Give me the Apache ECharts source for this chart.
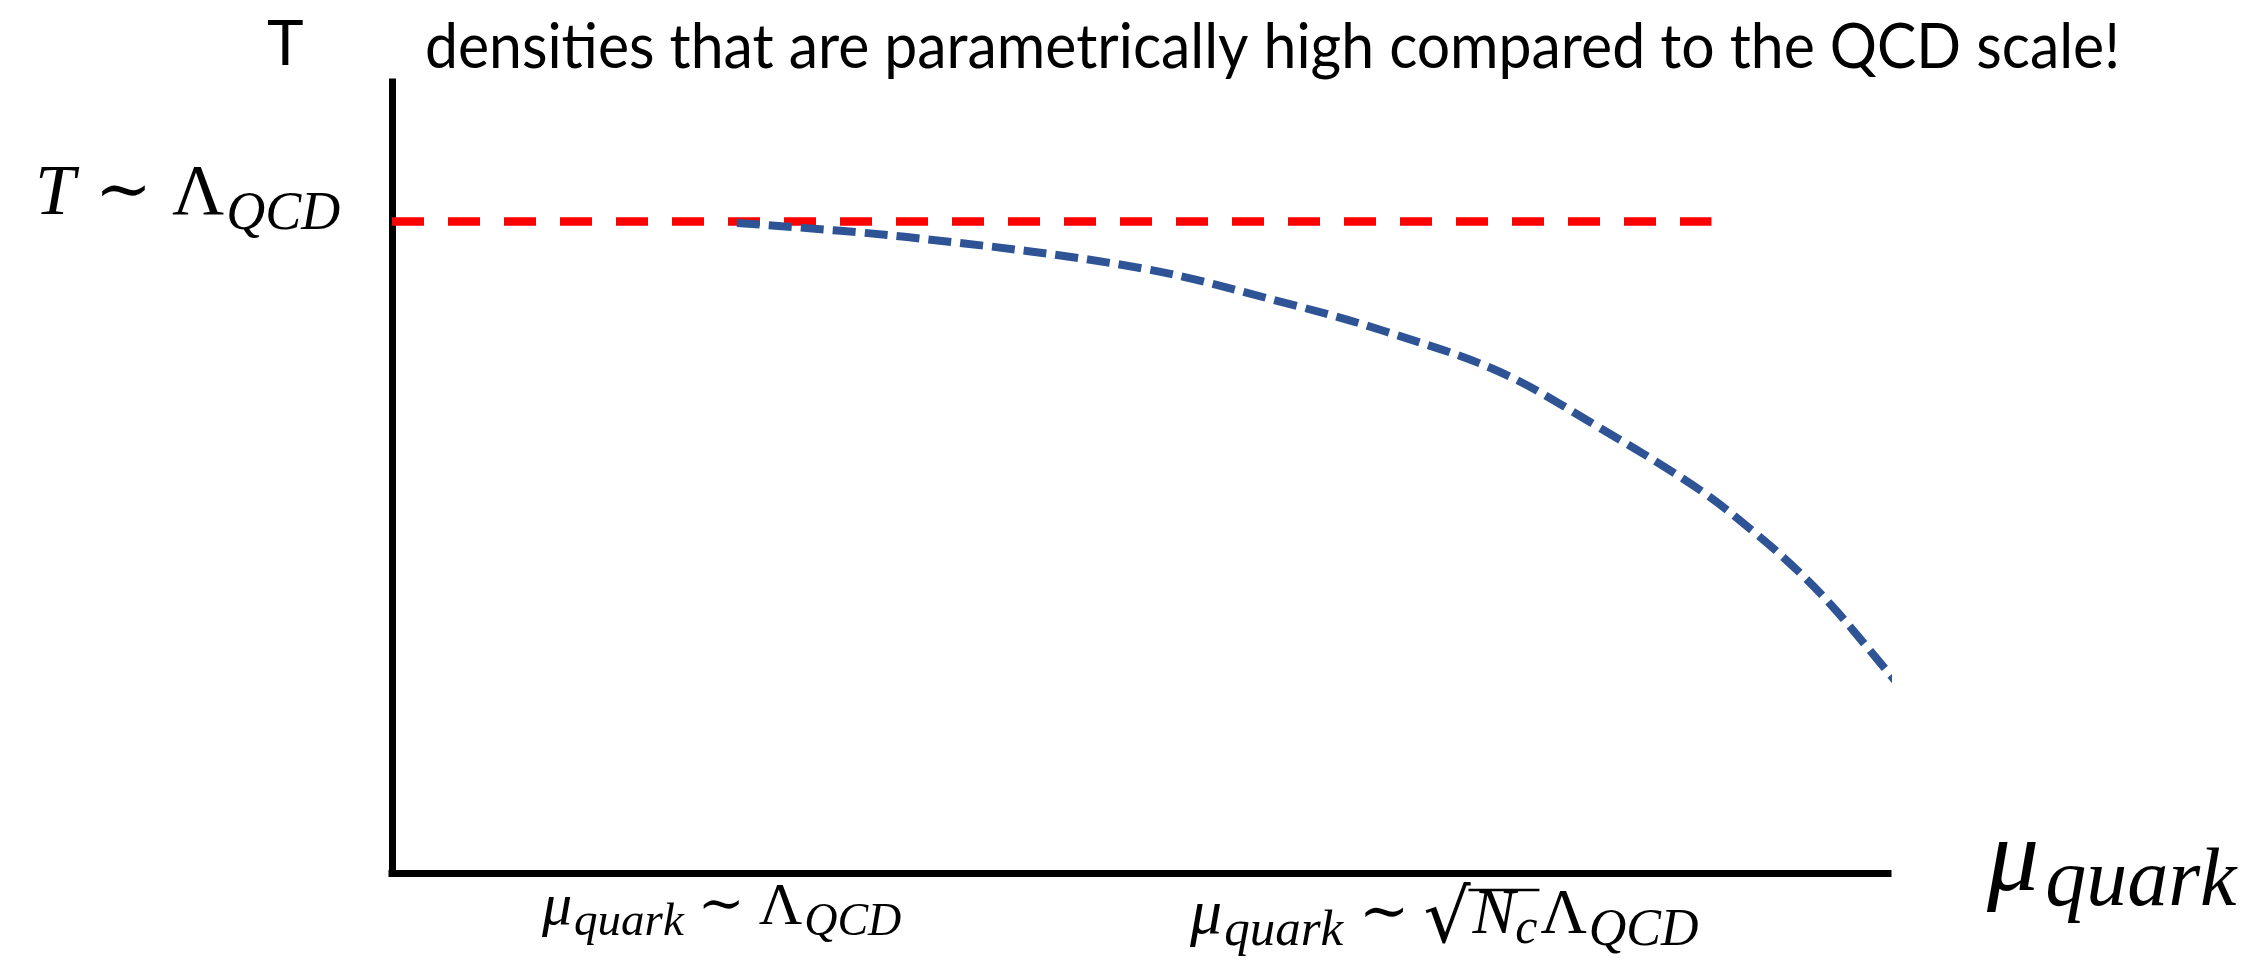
<!DOCTYPE html>
<html><head><meta charset="utf-8">
<script src="https://cdn.jsdelivr.net/npm/echarts@6/dist/echarts.min.js"></script>
<style>html,body{margin:0;padding:0;background:#fff}#c{width:2260px;height:962px}</style>
</head><body><div id="c"></div>
<script>
// ---- data (arbitrary units: x 0..100 along mu, y 0..100 along T) ----
const curveX = [23.06, 34.43, 50.00, 60.49, 66.31, 74.06, 80.75, 87.43, 91.44, 94.12, 96.32, 98.60, 100.60];
const curveY = [82.17, 80.40, 76.49, 71.68, 68.52, 63.34, 56.26, 48.42, 42.48, 37.93, 33.63, 28.57, 24.02];
const qcdX = [0, 88.2];
const qcdY = [82.36, 82.36];
const headline = 'densities that are parametrically high compared to the QCD scale!';
const yAxisTitle = 'T';

const chart = echarts.init(document.getElementById('c'), null, {renderer: 'canvas'});
const SERIF = '"Liberation Serif", "DejaVu Serif", serif';
const DJ = '"DejaVu Serif", serif';
const SANS = 'Lato, "Open Sans", sans-serif';

const mctx = document.createElement('canvas').getContext('2d');
function font(size, italic, family) { return (italic ? 'italic ' : '') + size + 'px ' + (family || SERIF); }
function measure(str, f) { mctx.font = f; return mctx.measureText(str).width; }
// text placed by left edge and alphabetic baseline
function t(str, x, baseline, size, italic, family, scaleX) {
  return {
    type: 'text', silent: true, x: x, y: baseline - 0.33 * size, scaleX: scaleX || 1,
    style: {
      text: str, x: 0, y: 0, fill: '#000', font: font(size, italic, family),
      textAlign: 'left', textVerticalAlign: 'middle'
    }
  };
}
// lay out a row of pieces left to right
function row(x0, baseline, pieces) {
  let x = x0; const els = []; const pos = [];
  pieces.forEach(p => {
    x += (p.gap || 0);
    const f = font(p.size, p.it, p.fam);
    const w = measure(p.s, f);
    pos.push({x: x, w: w});
    els.push(t(p.s, x, baseline + (p.dy || 0), p.size, p.it, p.fam));
    x += w;
  });
  return {els, pos};
}

const headSize = 62;
const headScale = 1695 / measure(headline, font(headSize, false, SANS));

const labelA = row(35, 219, [
  {s: 'T', size: 72, it: true},
  {s: '\u223C', size: 68, fam: DJ, gap: 20, dy: -2},
  {s: '\u039B', size: 72, gap: 20},
  {s: 'QCD', size: 54, it: true, gap: 2, dy: 14}
]);
const labelB = row(542, 928, [
  {s: '\u03BC', size: 60, it: true},
  {s: 'quark', size: 47, it: true, gap: 2, dy: 10},
  {s: '\u223C', size: 56, fam: DJ, gap: 14, dy: -2},
  {s: '\u039B', size: 60, gap: 14},
  {s: 'QCD', size: 46, it: true, gap: 2, dy: 10}
]);
const labelC = row(1190, 937, [
  {s: '\u03BC', size: 64, it: true},
  {s: 'quark', size: 51, it: true, gap: 2, dy: 11},
  {s: '\u223C', size: 60, fam: DJ, gap: 16, dy: -2},
  {s: '\u221A', size: 74, fam: DJ, gap: 14, dy: 10},
  {s: 'N', size: 64, it: true, gap: 2},
  {s: 'c', size: 50, it: true, gap: 0, dy: 9},
  {s: '\u039B', size: 64, gap: 3},
  {s: 'QCD', size: 52, it: true, gap: 2, dy: 11}
]);
const rootEnd = labelC.pos[3].x + labelC.pos[3].w - 2;
const radEnd = labelC.pos[5].x + labelC.pos[5].w + 2;
const labelD = row(1987, 897, [
  {s: '\u03BC', size: 104, it: true},
  {s: 'quark', size: 82, it: true, gap: 6, dy: 13}
]);

const graphics = [
  t(yAxisTitle, 267, 65, headSize, false, SANS),
  t(headline, 425, 68, headSize, false, SANS, headScale)
].concat(labelA.els, labelB.els, labelC.els, labelD.els, [
  {type: 'line', silent: true, shape: {x1: rootEnd, y1: 890, x2: radEnd, y2: 890}, style: {stroke: '#000', lineWidth: 2.5}}
]);

const axisCommon = {
  type: 'value', min: 0, max: 100,
  axisLine: {show: true, lineStyle: {color: '#000', width: 7, cap: 'square'}},
  axisTick: {show: false}, axisLabel: {show: false}, splitLine: {show: false}
};

chart.setOption({
  animation: false,
  backgroundColor: '#fff',
  grid: {left: 392, right: 372, top: 82, bottom: 89},
  xAxis: Object.assign({}, axisCommon),
  yAxis: Object.assign({}, axisCommon),
  series: [
    {
      type: 'line', data: qcdX.map((x, i) => [x, qcdY[i]]),
      showSymbol: false, symbol: 'none', clip: false,
      lineStyle: {color: '#FF0000', width: 8.5, type: [32, 24]}
    },
    {
      type: 'line', data: curveX.map((x, i) => [x, curveY[i]]),
      showSymbol: false, symbol: 'none', smooth: 0.35, clip: false,
      lineStyle: {color: '#2F5496', width: 8, type: [23, 9]}
    }
  ],
  graphic: graphics
});
</script>
</body></html>
